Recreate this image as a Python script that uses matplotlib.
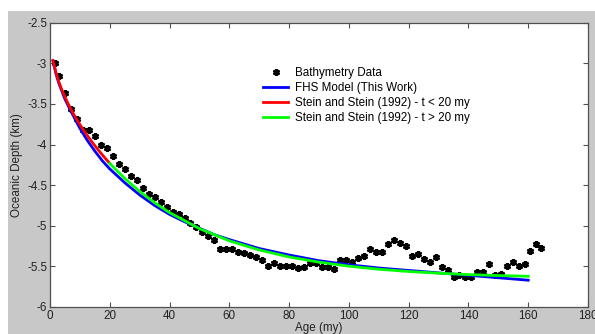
import numpy as np
import matplotlib
matplotlib.use('Agg')
import matplotlib.pyplot as plt
from matplotlib.patches import Rectangle

plt.rcParams['font.family'] = ['Liberation Sans', 'DejaVu Sans']

# --- data ---
# bathymetry points (age in my, depth in km)
data_age = [1.8, 3, 5, 7, 9, 11, 13, 15, 17, 19, 21, 23, 25, 27, 29, 31, 33, 35, 37, 39,
            41, 43, 45, 47, 49, 51, 53, 55, 57, 59, 61, 63, 65, 67, 69, 71, 73, 75, 77, 79,
            81, 83, 85, 87, 89, 91, 93, 95, 97, 99, 101, 103, 105, 107, 109, 111, 113, 115,
            117, 119, 121, 123, 125, 127, 129, 131, 133, 135, 137, 139, 141, 143, 145, 147,
            149, 151, 153, 155, 157, 159, 160.6, 162.6, 164.3]
data_depth = [-3.00, -3.16, -3.36, -3.56, -3.69, -3.82, -3.82, -3.90, -4.00, -4.04,
              -4.14, -4.24, -4.30, -4.39, -4.44, -4.53, -4.61, -4.65, -4.71, -4.77,
              -4.83, -4.85, -4.91, -4.97, -5.01, -5.08, -5.13, -5.17, -5.28, -5.28,
              -5.28, -5.32, -5.34, -5.36, -5.38, -5.42, -5.49, -5.46, -5.49, -5.50,
              -5.50, -5.52, -5.51, -5.46, -5.46, -5.51, -5.51, -5.53, -5.42, -5.42,
              -5.44, -5.40, -5.37, -5.28, -5.32, -5.32, -5.23, -5.17, -5.21, -5.25,
              -5.37, -5.35, -5.41, -5.45, -5.39, -5.51, -5.55, -5.63, -5.61, -5.63,
              -5.63, -5.57, -5.57, -5.47, -5.61, -5.59, -5.49, -5.45, -5.49, -5.47,
              -5.31, -5.23, -5.27]

# FHS model curve
fhs_age = [1, 2, 3, 5, 7, 10, 12.5, 15, 17.5, 20, 25, 30, 35, 40, 45, 50, 55, 60, 70,
           80, 90, 100, 110, 120, 130, 140, 150, 160]
fhs_depth = [-2.97, -3.13, -3.25, -3.44, -3.59, -3.80, -3.95, -4.08, -4.20, -4.30,
             -4.47, -4.62, -4.75, -4.86, -4.95, -5.03, -5.11, -5.17, -5.28, -5.36,
             -5.43, -5.48, -5.52, -5.55, -5.58, -5.61, -5.64, -5.67]

# Stein and Stein (1992), young side
ss_young_age = [1, 2, 3, 4, 6, 8, 10, 12, 14, 16, 18, 20]
ss_young_depth = [-2.965, -3.116, -3.232, -3.330, -3.494, -3.632, -3.754, -3.864,
                  -3.966, -4.060, -4.149, -4.232]

# Stein and Stein (1992), old side
ss_old_age = [20, 25, 30, 35, 40, 50, 60, 70, 80, 90, 100, 110, 120, 130, 140, 150, 160]
ss_old_depth = [-4.233, -4.417, -4.577, -4.716, -4.838, -5.035, -5.185, -5.298, -5.384,
                -5.448, -5.498, -5.535, -5.563, -5.584, -5.601, -5.613, -5.622]

fs = 8.4

# --- figure ---
fig = plt.figure(figsize=(5.95, 3.34), dpi=100)
# grey window area, leaving a thin white strip on top and left
fig.patches.append(Rectangle((8 / 595, 0), 1, 1 - 11 / 334, transform=fig.transFigure,
                             facecolor='#c8c8c8', edgecolor='none', zorder=-10))
ax = fig.add_axes([50 / 595, 27 / 334, 538 / 595, 284.3 / 334])
ax.set_facecolor('white')

ax.plot(data_age, data_depth, linestyle='none', marker=(6, 2, 0), markersize=5,
        markeredgewidth=1.7, color='black', label='Bathymetry Data')
ax.plot(fhs_age, fhs_depth, color='#0000ff', lw=2, label='FHS Model (This Work)')
ax.plot(ss_young_age, ss_young_depth, color='#ff0000', lw=2,
        label='Stein and Stein (1992) - t < 20 my')
ax.plot(ss_old_age, ss_old_depth, color='#00ff00', lw=2,
        label='Stein and Stein (1992) - t > 20 my')

ax.set_xlim(0, 180)
ax.set_ylim(-6, -2.5)
ax.set_xticks(np.arange(0, 181, 20))
ax.set_yticks(np.arange(-6, -2.49, 0.5))
ax.set_yticklabels(['-6', '-5.5', '-5', '-4.5', '-4', '-3.5', '-3', '-2.5'])

for s in ax.spines.values():
    s.set_color('#505050')
    s.set_linewidth(0.9)
ax.tick_params(direction='in', top=True, right=True, length=3.6, width=0.8,
               color='#505050', labelsize=fs, labelcolor='#222222', pad=2)

ax.set_xlabel('Age (my)', fontsize=fs, color='#222222')
ax.set_ylabel('Oceanic Depth (km)', fontsize=fs, color='#222222')
ax.xaxis.set_label_coords(0.5, -0.052)
ax.yaxis.set_label_coords(-0.05, 0.5)

ax.legend(loc='upper left', bbox_to_anchor=(0.396, 0.845), frameon=False, fontsize=fs,
          numpoints=1, handlelength=2.15, handletextpad=0.55, labelspacing=0.27,
          borderpad=0, borderaxespad=0)

fig.savefig('out.png', dpi=100)
